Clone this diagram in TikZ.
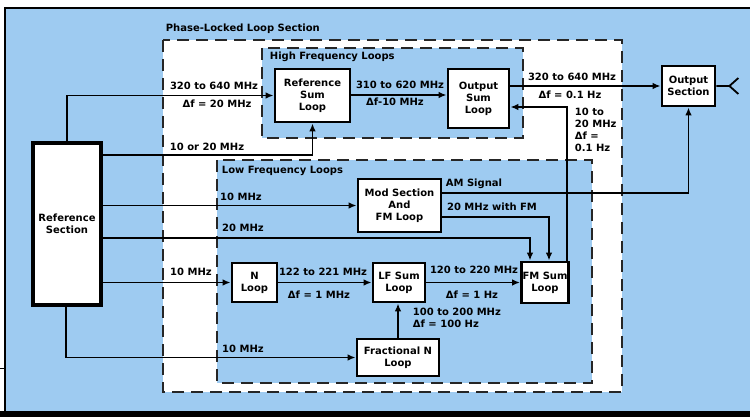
\documentclass[tikz,border=0pt]{standalone}
\usepackage{fontspec}
\setmainfont{DejaVu Sans}
\usetikzlibrary{arrows.meta}
\definecolor{panelblue}{RGB}{158,203,241}
\tikzset{
  loopbox/.style={draw,line width=2.8pt,fill=white,align=center,inner sep=1pt},
  zone/.style={draw=black!85,line width=1.6pt,dash pattern=on 12pt off 7pt},
  tag/.style={inner sep=0pt},
}
\begin{document}
\begin{tikzpicture}[x=1pt,y=-1pt,>={Latex[length=8pt,width=6.5pt]},line width=1.8pt,
  font=\bfseries\fontsize{10}{12}\selectfont]
  \useasboundingbox (0,0) rectangle (750,417);
  % frame
  \fill[panelblue] (5,8) rectangle (750,413);
  \fill[black] (0,411) rectangle (750,417);
  \draw[line width=2.2pt] (750,8)--(5,8)--(5,413);
  \draw[line width=1pt] (0,368)--(5,368);
  % loop sections
  \draw[zone,fill=white] (163,40) rectangle (622,392);
  \draw[zone,fill=panelblue] (262,48) rectangle (523,138);
  \draw[zone,fill=panelblue] (217,160) rectangle (592,383);
  \node[tag,anchor=west] (pll) at (165,29) {Phase-Locked Loop Section};
  \node[tag,anchor=west] (hfl) at (269,57) {High Frequency Loops};
  \node[tag,anchor=west] (lfl) at (221,171) {Low Frequency Loops};
  % blocks
  \node[loopbox,line width=3.4pt,minimum width=68pt,minimum height=162pt] (refsec) at (67,224) {Reference\\Section};
  \node[loopbox,minimum width=75pt,minimum height=53pt] (refsum) at (312.5,95.5) {Reference\\Sum\\Loop};
  \node[loopbox,minimum width=61pt,minimum height=59pt] (outsum) at (478.5,98.5) {Output\\Sum\\Loop};
  \node[loopbox,minimum width=53pt,minimum height=40pt] (outsec) at (688.5,86) {Output\\Section};
  \node[loopbox,minimum width=83pt,minimum height=53pt] (modsec) at (399.5,205.5) {Mod Section\\And\\FM Loop};
  \node[loopbox,minimum width=45pt,minimum height=39pt] (nloop) at (254.5,282.5) {N\\Loop};
  \node[loopbox,minimum width=52pt,minimum height=39pt] (lfsum) at (399,282.5) {LF Sum\\Loop};
  \node[loopbox,minimum width=44pt,minimum height=41pt] (fmsum) at (545,282.5) {FM Sum\\Loop};
  \node[loopbox,minimum width=82pt,minimum height=37pt] (fracn) at (398,357.5) {Fractional N\\Loop};
  % signal paths
  \draw[->] (refsec.north) |- (refsum.west);
  \draw[->] (refsec.east |- 0,155) -| (refsum.south);
  \draw[->] (refsum.east |- 0,95) -- (outsum.west |- 0,95);
  \draw[->] (outsum.east |- outsec.west) -- (outsec.west);
  \draw[->] ([xshift=-3pt]fmsum.north east) |- (outsum.east |- 0,107);
  \draw[->] (modsec.east |- 0,193) -| (outsec.south);
  \draw[->] (modsec.east |- 0,217) -| (549,0 |- fmsum.north);
  \draw[->] (refsec.east |- modsec.west) -- (modsec.west);
  \draw[->] (refsec.east |- 0,238) -| (530,0 |- fmsum.north);
  \draw[->] (refsec.east |- nloop.west) -- (nloop.west);
  \draw[->] (nloop.east) -- (lfsum.west);
  \draw[->] (lfsum.east) -- (fmsum.west);
  \draw[->] ([xshift=-1pt]refsec.south) |- (fracn.west);
  \draw[->] (fracn.north) -- (fracn.north |- lfsum.south);
  % antenna
  \draw (outsec.east) -- ++(13,0) coordinate (aerial) ++(9,-8) -- (aerial) -- ++(9,8);
  % labels
  \node[tag] (hfin) at (214,86) {320 to 640 MHz};
  \node[tag] (hfstep) at (217,104) {Δf = 20 MHz};
  \node[tag] (refin) at (207,147) {10 or 20 MHz};
  \node[tag] (sumout) at (400,85) {310 to 620 MHz};
  \node[tag] (sumstep) at (395,102) {Δf-10 MHz};
  \node[tag] (rfout) at (572,77) {320 to 640 MHz};
  \node[tag] (rfstep) at (570,95) {Δf = 0.1 Hz};
  \node[tag,align=left,anchor=north west] (fmout) at (574,107) {10 to\\20 MHz\\Δf =\\0.1 Hz};
  \node[tag] (amsig) at (474,184) {AM Signal};
  \node[tag] (fmsig) at (492,207) {20 MHz with FM};
  \node[tag] (modin) at (241,197) {10 MHz};
  \node[tag] (fmin) at (243,228) {20 MHz};
  \node[tag] (nin) at (191,272) {10 MHz};
  \node[tag] (nout) at (323,272) {122 to 221 MHz};
  \node[tag] (nstep) at (319,295) {Δf = 1 MHz};
  \node[tag] (lfout) at (474,270) {120 to 220 MHz};
  \node[tag] (lfstep) at (472,295) {Δf = 1 Hz};
  \node[tag,align=left,anchor=north west] (fracout) at (412,307) {100 to 200 MHz\\Δf = 100 Hz};
  \node[tag] (fracin) at (243,349) {10 MHz};
\end{tikzpicture}
\end{document}
